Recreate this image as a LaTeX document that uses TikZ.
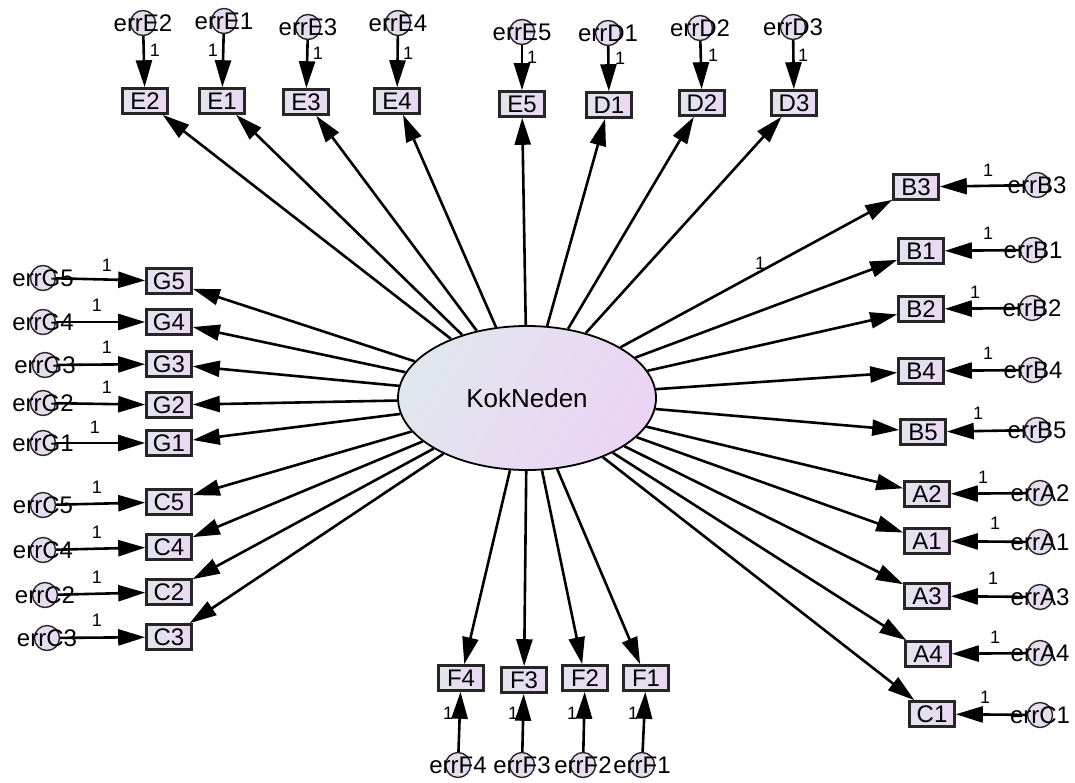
\documentclass[tikz,border=0pt]{standalone}
\usepackage{fontspec}
\setmainfont{Liberation Sans}
\usetikzlibrary{arrows.meta,shapes.geometric}
\definecolor{boxL}{HTML}{E2E4EE}
\definecolor{boxR}{HTML}{EAD8F2}
\definecolor{ellL}{HTML}{E0E6EE}
\definecolor{ellR}{HTML}{ECD4F4}
\definecolor{errfill}{HTML}{E6DDF0}
\tikzset{
  obsbox/.style={draw=black!85, line width=2.6pt, left color=boxL, right color=boxR,
    minimum width=45pt, minimum height=25pt, inner sep=0pt, font=\fontsize{24}{24}\selectfont},
  errcirc/.style={draw=black!85, line width=1.4pt, fill=errfill, circle, minimum size=25pt, inner sep=0pt},
  errtext/.style={font=\fontsize{24}{24}\selectfont, inner sep=0pt},
  latent/.style={ellipse, draw=black, line width=1.8pt, left color=ellL, right color=ellR,
    shading angle=60,
    minimum width=258pt, minimum height=144pt, inner sep=0pt, font=\fontsize{26}{26}\selectfont},
  path1/.style={-{Triangle[length=27pt,width=16pt]}, line width=2.6pt},
  onelbl/.style={font=\fontsize{18}{18}\selectfont, inner sep=0pt}
}
\begin{document}
\begin{tikzpicture}[x=1pt,y=-1pt]
\useasboundingbox (0,0) rectangle (1075,782);
% latent factor
\node[latent] (K) at (527,398) {KokNeden};
% indicators: name / box x / box y / error x / error y / label x / label y
\foreach \n/\bx/\by/\cx/\cy/\lx/\ly in {
  E2/145/101/143/23/155/50, E1/222/101/224/21/213/50,
  E3/306/102/308/27/318/53, E4/397/101/398/23/408/53,
  E5/522/104/522/32/532/57, D1/609/105/608/33/620/58,
  D2/702/103/700/28/713/55, D3/794/103/793/27/803/55,
  G5/169/281/43/278/107/265, G4/169/322/43/322/97/305,
  G3/169/364/45/365/107/347, G2/169/405/43/403/107/387,
  G1/169/443/43/443/95/427, C5/169/502/43/505/97/487,
  C4/169/547/43/550/97/532, C2/169/592/45/595/97/577,
  C3/169/637/47/638/97/620,
  B3/916/187/1037/185/988/170, B1/921/251/1033/250/988/233,
  B2/921/309/1032/308/975/292, B4/921/371/1033/370/988/353,
  B5/923/432/1037/430/978/413, A2/927/494/1040/493/983/477,
  A1/927/541/1040/542/995/523, A3/927/596/1040/597/993/578,
  A4/928/654/1040/653/995/637, C1/932/714/1040/715/985/697,
  F4/461/678/458/765/448/713, F3/524/680/522/765/513/713,
  F2/585/678/583/765/572/713, F1/646/678/642/765/633/713}{
  \node[obsbox] (\n) at (\bx,\by) {\n};
  \node[errcirc] (e\n) at (\cx,\cy) {};
  \node[errtext] (t\n) at (\cx,\cy) {err\n};
  \draw[path1] (e\n) -- (\n);
  \node[onelbl] (one\n) at (\lx,\ly) {1};
  \draw[path1] (K) -- (\n);
}
% fixed loading on B3
\node[onelbl] (fixB3) at (760,263) {1};
\end{tikzpicture}
\end{document}
